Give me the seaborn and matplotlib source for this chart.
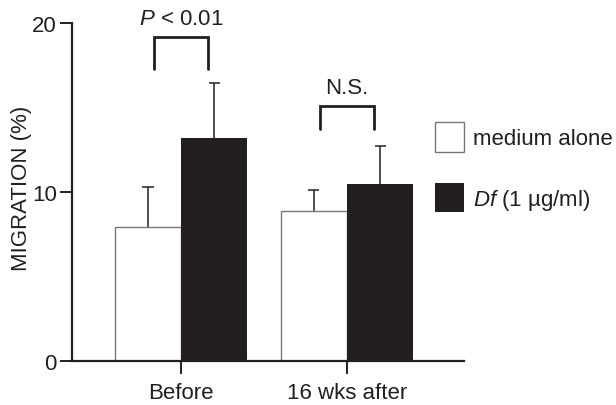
import pandas as pd
import matplotlib
matplotlib.use("Agg")
import matplotlib.pyplot as plt
import seaborn as sns
from matplotlib.patches import Patch

# data
groups = ["Before", "16 wks after"]
conditions = ["medium alone", "Df (1 µg/ml)"]
medium_mean = [7.9, 8.9]
medium_sem = [2.4, 1.2]
df_mean = [13.2, 10.5]
df_sem = [3.25, 2.2]
brackets = [("$\\mathit{P}$ < 0.01", 17.3, 19.2), ("N.S.", 13.7, 15.1)]

FS = 16
INK = "#231f20"

sns.set_theme(style="ticks")
plt.rcParams["font.family"] = ["Liberation Sans", "DejaVu Sans"]
plt.rcParams["mathtext.fontset"] = "custom"
plt.rcParams["mathtext.rm"] = "Liberation Sans"
plt.rcParams["mathtext.it"] = "Liberation Sans:italic"

data = pd.DataFrame({
    "group": groups * 2,
    "condition": [conditions[0]] * 2 + [conditions[1]] * 2,
    "value": medium_mean + df_mean,
})

fig = plt.figure(figsize=(6.16, 4.06), dpi=100)
ax = fig.add_axes([0.1169, 0.1084, 0.6364, 0.8325])

sns.barplot(data=data, x="group", y="value", hue="condition",
            hue_order=conditions, order=groups,
            palette=["white", INK], errorbar=None,
            width=0.8, saturation=1, legend=False, ax=ax)

# outline the white bars, keep black ones plain
bars = ax.patches[:4]
for i, p in enumerate(bars):
    if i < 2:
        p.set_edgecolor("#777777")
        p.set_linewidth(1.0)
    else:
        p.set_linewidth(0)

# upward-only error bars (top cap only)
errs = medium_sem + df_sem
vals = medium_mean + df_mean
cap = 0.034
for p, v, e in zip(bars, vals, errs):
    xc = p.get_x() + p.get_width() / 2
    ax.vlines(xc, v, v + e, color=INK, lw=1.1, zorder=0.5)
    ax.hlines(v + e, xc - cap, xc + cap, color=INK, lw=1.1, zorder=0.5)

# significance brackets
for g, (label, low, high) in enumerate(brackets):
    left = bars[g].get_x() + bars[g].get_width() / 2 + 0.04
    right = bars[g + 2].get_x() + bars[g + 2].get_width() / 2 - 0.04
    ax.plot([left, left, right, right], [low, high, high, low],
            color=INK, lw=2.0, clip_on=False, solid_joinstyle="miter")
    ax.text((left + right) / 2, high + 0.45, label, ha="center", va="bottom",
            fontsize=FS, color=INK, clip_on=False)

ax.set_ylim(0, 20)
ax.set_xlim(-0.657, 1.705)
ax.set_yticks([0, 10, 20])
ax.set_xlabel("")
ax.set_ylabel("MIGRATION (%)", fontsize=FS, color=INK)
ax.yaxis.set_label_coords(-0.102, 0.515)
ax.tick_params(axis="both", labelsize=FS, length=9, width=1.4,
               colors=INK, direction="out")
ax.tick_params(axis="y", pad=2)
ax.tick_params(axis="x", pad=6)
for side in ["top", "right"]:
    ax.spines[side].set_visible(False)
for side in ["left", "bottom"]:
    ax.spines[side].set_linewidth(1.6)
    ax.spines[side].set_color(INK)

handles = [Patch(facecolor="white", edgecolor="#777777", linewidth=1.0),
           Patch(facecolor=INK, edgecolor=INK, linewidth=0)]
labels = ["medium alone", "$\\mathit{Df}$ (1 µg/ml)"]
fig.legend(handles, labels, loc="upper left",
           bbox_to_anchor=(435 / 616, 1 - 123 / 406),
           frameon=False, fontsize=FS, handlelength=1.3, handleheight=1.67,
           handletextpad=0.4, labelspacing=1.4, borderpad=0,
           borderaxespad=0, labelcolor=INK)

fig.savefig("out.png", dpi=100)
